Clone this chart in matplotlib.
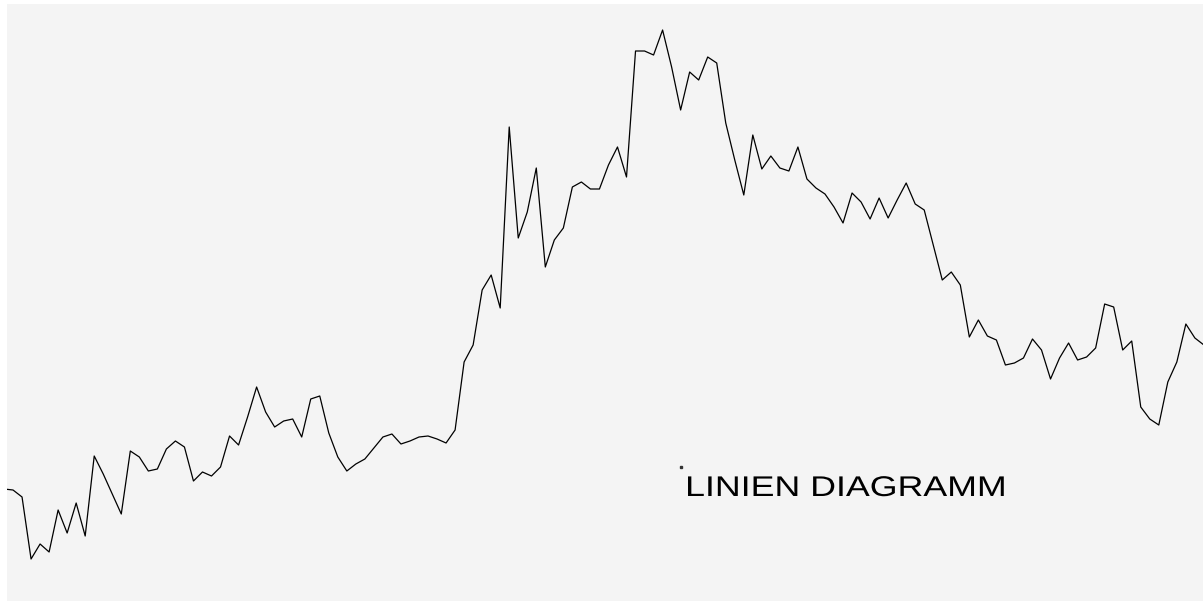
import matplotlib
matplotlib.use("Agg")
import matplotlib.pyplot as plt
import matplotlib.patheffects as pe
from matplotlib.transforms import Affine2D
import numpy as np

# line values (arbitrary units)
values = [112, 111, 104, 42, 57, 49, 91, 68, 98, 65,
          145, 127, 107, 87, 150, 144, 130, 132, 152, 160,
          154, 120, 129, 125, 134, 165, 156, 184, 214, 189,
          174, 180, 182, 164, 202, 205, 168, 144, 130, 137,
          142, 153, 164, 167, 157, 160, 164, 165, 162, 158,
          171, 239, 256, 311, 326, 293, 474, 363, 389, 433,
          334, 361, 373, 414, 419, 412, 412, 436, 454, 424,
          550, 550, 546, 571, 534, 491, 529, 521, 544, 538,
          478, 441, 406, 466, 432, 445, 433, 430, 454, 422,
          413, 407, 394, 378, 408, 399, 382, 403, 383, 401,
          418, 397, 391, 356, 321, 329, 316, 264, 281, 265,
          261, 236, 238, 243, 262, 251, 222, 243, 258, 241,
          244, 253, 297, 294, 251, 260, 194, 182, 176, 219,
          239, 277, 263, 256]
steps = np.arange(len(values))

title = "LINIEN DIAGRAMM"
title_at = (75.05, 134)


# the label in the picture is drawn horizontally stretched
class Stretch(pe.AbstractPathEffect):
    def __init__(self, sx):
        super().__init__()
        self.sx = sx

    def draw_path(self, renderer, gc, tpath, affine, rgbFace=None):
        renderer.draw_path(gc, tpath, Affine2D().scale(self.sx, 1) + affine, rgbFace)


W, H = 1203, 601
fig = plt.figure(figsize=(W / 100, H / 100), dpi=100, facecolor="white")
ax = fig.add_axes([7 / W, 0, 1 - 7 / W, 597 / H])
ax.set_facecolor("#f4f4f4")

ax.plot(steps, values, color="black", linewidth=0.9)
ax.set_xlim(0.333, 132.9)
ax.set_ylim(0, 597)

# tiny anchor dot + label
ax.plot([title_at[0]], [title_at[1]], marker="s", markersize=1.5, color="#333333")
ax.annotate(title, xy=title_at, xytext=(4, -29), textcoords="offset pixels",
            ha="left", va="baseline", fontsize=20.5, family="Liberation Sans",
            color="black", path_effects=[Stretch(1.255)])

for s in ax.spines.values():
    s.set_visible(False)
ax.set_xticks([])
ax.set_yticks([])

fig.savefig("out.png", dpi=100, facecolor="white")
